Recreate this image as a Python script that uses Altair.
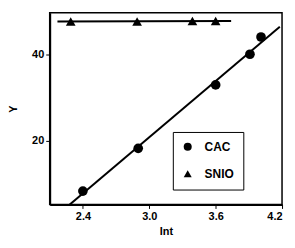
import altair as alt
import pandas as pd

cac_x = [2.4, 2.9, 3.6, 3.91, 4.01]
cac_y = [8.3, 18.2, 32.9, 40.0, 44.0]
snio_x = [2.29, 2.89, 3.39, 3.6]
snio_y = [47.6, 47.6, 47.7, 47.7]

df = pd.DataFrame({
    "x": cac_x + snio_x,
    "y": cac_y + snio_y,
    "series": ["CAC"] * len(cac_x) + ["SNIO"] * len(snio_x),
})

font = "Liberation Sans"
xs = alt.Scale(domain=[2.1, 4.2], nice=False, zero=False)
ys = alt.Scale(domain=[5.2, 49.6], nice=False, zero=False)

base = alt.Chart(df)

pts = base.mark_point(filled=True, opacity=1, color="black", size=95).encode(
    x=alt.X("x:Q", scale=xs, title="Int",
            axis=alt.Axis(values=[2.4, 3.0, 3.6, 4.2], format=".1f")),
    y=alt.Y("y:Q", scale=ys, title="Y", axis=alt.Axis(values=[20, 40])),
    shape=alt.Shape("series:N",
                    scale=alt.Scale(domain=["CAC", "SNIO"], range=["circle", "triangle-up"]),
                    legend=alt.Legend(title=None, orient="none", legendX=124, legendY=120,
                                      strokeColor="black", fillColor="white",
                                      padding=9, rowPadding=12, symbolSize=65,
                                      symbolFillColor="black", symbolStrokeColor="black",
                                      labelFont=font, labelFontSize=12, labelFontWeight="bold",
                                      labelColor="black", labelOffset=11)),
)

cac_line = base.transform_filter(alt.datum.series == "CAC").transform_regression(
    "x", "y", extent=[2.2, 4.18]
).mark_line(color="black", strokeWidth=2, clip=True).encode(
    x=alt.X("x:Q", scale=xs), y=alt.Y("y:Q", scale=ys)
)

snio_line = base.transform_filter(alt.datum.series == "SNIO").transform_regression(
    "x", "y", extent=[2.17, 3.74]
).mark_line(color="black", strokeWidth=2, clip=True).encode(
    x=alt.X("x:Q", scale=xs), y=alt.Y("y:Q", scale=ys)
)

chart = alt.layer(cac_line, snio_line, pts).properties(
    width=234, height=193,
    autosize="none",
    padding={"left": 42, "top": 4, "right": 5, "bottom": 40},
).configure_view(
    stroke="black", strokeWidth=1.5
).configure_axis(
    domainColor="black", domainWidth=2, tickColor="black", tickSize=4,
    grid=False, labelFont=font, labelFontSize=11, labelFontWeight="bold",
    labelColor="black", titleFont=font, titleFontSize=11, titleFontWeight="bold",
    titleColor="black",
).configure_axisY(titlePadding=13, labelPadding=2)

chart.save("out.html", embed_options={"renderer": "svg", "actions": False})
